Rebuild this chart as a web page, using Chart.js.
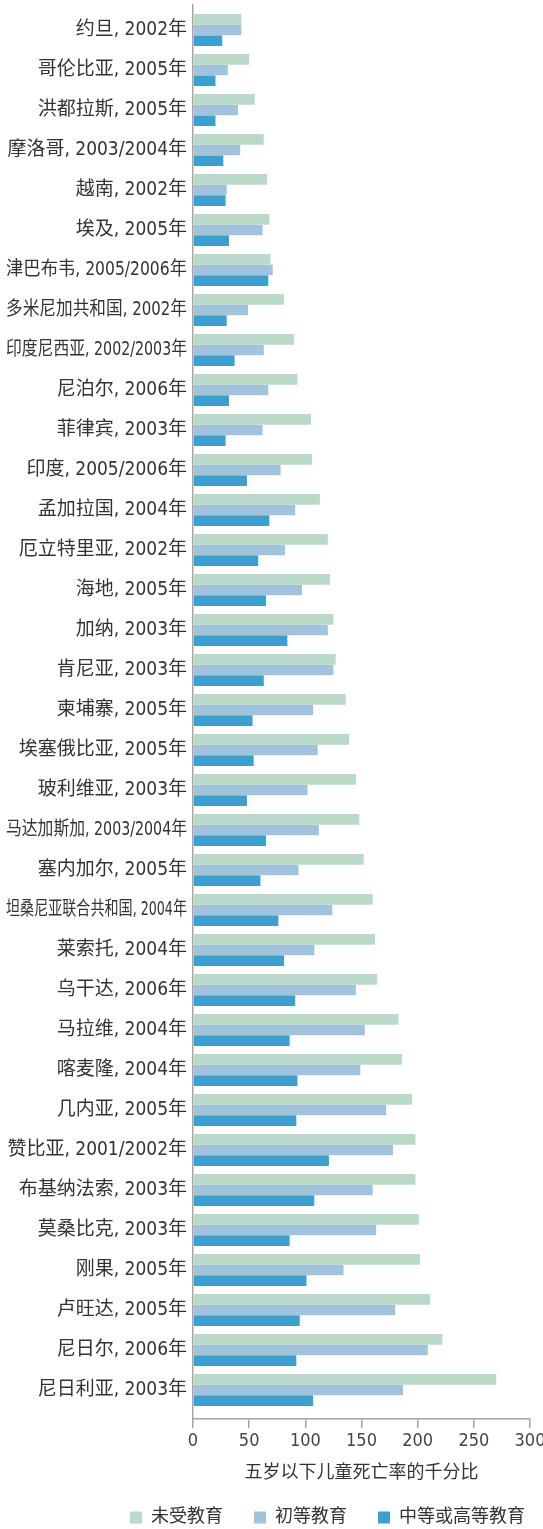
<!DOCTYPE html>
<html>
<head>
<meta charset="utf-8">
<script src="https://cdn.jsdelivr.net/npm/chart.js@4.4.1/dist/chart.umd.min.js"></script>
<style>
  html, body { margin: 0; padding: 0; background: #fff; }
  #wrap { width: 543px; height: 1529px; }
</style>
</head>
<body>
<div id="wrap"><canvas id="chart"></canvas></div>
<script>
// Under-five mortality per 1000, by mother's education
const countries = [
  '约旦, 2002年', '哥伦比亚, 2005年', '洪都拉斯, 2005年', '摩洛哥, 2003/2004年',
  '越南, 2002年', '埃及, 2005年', '津巴布韦, 2005/2006年', '多米尼加共和国, 2002年',
  '印度尼西亚, 2002/2003年', '尼泊尔, 2006年', '菲律宾, 2003年', '印度, 2005/2006年',
  '孟加拉国, 2004年', '厄立特里亚, 2002年', '海地, 2005年', '加纳, 2003年',
  '肯尼亚, 2003年', '柬埔寨, 2005年', '埃塞俄比亚, 2005年', '玻利维亚, 2003年',
  '马达加斯加, 2003/2004年', '塞内加尔, 2005年', '坦桑尼亚联合共和国, 2004年', '莱索托, 2004年',
  '乌干达, 2006年', '马拉维, 2004年', '喀麦隆, 2004年', '几内亚, 2005年',
  '赞比亚, 2001/2002年', '布基纳法索, 2003年', '莫桑比克, 2003年', '刚果, 2005年',
  '卢旺达, 2005年', '尼日尔, 2006年', '尼日利亚, 2003年'
];
const noEducation = [
  43, 50, 55, 63, 66, 68, 69, 81, 90, 93, 105, 106, 113, 120, 122, 125, 127, 136,
  139, 145, 148, 152, 160, 162, 164, 183, 186, 195, 198, 198, 201, 202, 211, 222, 270
];
const primary = [
  43, 31, 40, 42, 30, 62, 71, 49, 63, 67, 62, 78, 91, 82, 97, 120, 125, 107,
  111, 102, 112, 94, 124, 108, 145, 153, 149, 172, 178, 160, 163, 134, 180, 209, 187
];
const secondary = [
  26, 20, 20, 27, 29, 32, 67, 30, 37, 32, 29, 48, 68, 58, 65, 84, 63, 53,
  54, 48, 65, 60, 76, 81, 91, 86, 93, 92, 121, 108, 86, 101, 95, 92, 107
];
const seriesNames = ['未受教育', '初等教育', '中等或高等教育'];
const xTicks = [0, 50, 100, 150, 200, 250, 300];

const FONT = '"Liberation Sans Narrow", "DejaVu Sans Condensed", "Noto Sans CJK SC", sans-serif';
const TEXT = '#333333';
const AXIS = '#a6a6a6';

const toPoints = arr => arr.map((v, i) => ({ x: v, y: i }));

// long category labels are squeezed sideways, like in the print version
const squeezeLabels = {
  id: 'squeezeLabels',
  beforeDraw(chart) {
    chart.scales.y.getLabelItems().forEach(item => { item.options.maxWidth = 181; });
  }
};

new Chart(document.getElementById('chart'), {
  type: 'bar',
  data: {
    datasets: [
      { label: seriesNames[0], data: toPoints(noEducation), backgroundColor: '#b9dac9' },
      { label: seriesNames[1], data: toPoints(primary), backgroundColor: '#a2c3dc' },
      { label: seriesNames[2], data: toPoints(secondary), backgroundColor: '#3d9fcb' }
    ]
  },
  plugins: [squeezeLabels],
  options: {
    indexAxis: 'y',
    responsive: true,
    maintainAspectRatio: false,
    animation: false,
    layout: { padding: { top: 5, left: 0, right: -13, bottom: -7.5 } },
    datasets: { bar: { categoryPercentage: 0.8, barPercentage: 1.0 } },
    scales: {
      x: {
        type: 'linear',
        min: 0,
        max: 300,
        afterBuildTicks: s => { s.ticks = xTicks.map(v => ({ value: v })); },
        afterFit: s => { s.paddingLeft = 0; s.paddingRight = 13; },
        ticks: { font: { family: FONT, size: 18 }, color: '#444', padding: 3 },
        grid: { drawOnChartArea: false, tickLength: 9, color: AXIS, lineWidth: 1.5 },
        border: { color: AXIS, width: 1.5 },
        title: {
          display: true,
          text: '五岁以下儿童死亡率的千分比',
          font: { family: FONT, size: 18 },
          color: TEXT,
          padding: { top: 6.6, bottom: -6.3 }
        }
      },
      y: {
        type: 'linear',
        reverse: true,
        offset: false,
        min: -0.625,
        max: 34.725,
        afterBuildTicks: s => { s.ticks = countries.map((c, i) => ({ value: i })); },
        afterFit: s => { s.width = 193; s.paddingTop = 0; s.paddingBottom = 0; },
        ticks: {
          autoSkip: false,
          padding: 6,
          color: TEXT,
          callback: v => countries[v],
          font: { family: FONT, size: 19 }
        },
        grid: { display: false, drawTicks: false },
        border: { color: AXIS, width: 1.5 }
      }
    },
    plugins: {
      legend: {
        position: 'bottom',
        align: 'end',
        labels: {
          boxWidth: 12,
          boxHeight: 12,
          padding: 31,
          color: TEXT,
          font: { family: FONT, size: 18 }
        }
      },
      tooltip: { enabled: false }
    }
  }
});
</script>
</body>
</html>
